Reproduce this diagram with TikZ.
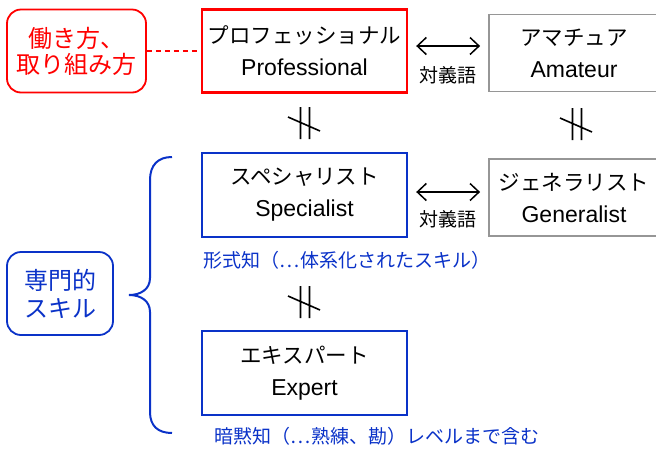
\documentclass[tikz,border=0pt]{standalone}
\usepackage{fontspec}
\setmainfont{Liberation Sans}
\newfontfamily\jp{Noto Sans CJK JP}
\usetikzlibrary{arrows.meta,calc}
\definecolor{myred}{RGB}{255,0,0}
\definecolor{myblue}{RGB}{10,50,200}
\definecolor{mygray}{RGB}{150,150,150}
\newcommand{\jl}[1]{{\jp\fontsize{21.5}{32}\selectfont #1}}
\tikzset{
  box/.style={draw, line width=2.4pt, minimum width=205pt, minimum height=83pt, align=center, inner sep=0pt, font=\fontsize{23}{32}\selectfont},
  graybox/.style={box, draw=mygray, line width=1.8pt, minimum width=170pt, minimum height=77pt},
  roundbox/.style={draw, rounded corners=14pt, line width=1.8pt, align=center, inner sep=0pt},
  dbl/.style={{Straight Barb[length=9pt,width=17pt]}-{Straight Barb[length=9pt,width=17pt]}, line width=1.5pt},
  small/.style={font=\jp\fontsize{19}{19}\selectfont, inner sep=0pt},
  noteq/.pic={
    \draw[line width=1.6pt] (-3.5,-16) -- (-3.5,16) (5.5,-16) -- (5.5,16) (-16,-6) -- (16,8);
  }
}
\begin{document}
\begin{tikzpicture}[x=1pt,y=-1pt]
\useasboundingbox (0,0) rectangle (656,448);
% top row
\node[roundbox, draw=myred, text=myred, minimum width=139pt, minimum height=83pt, font=\jp\fontsize{24}{26}\selectfont] (way) at (76.5,51) {働き方、\\取り組み方};
\node[box, draw=myred] (prof) at (304.5,51) {\jl{プロフェッショナル}\\Professional};
\node[graybox] (ama) at (574,53) {\jl{アマチュア}\\Amateur};
\draw[myred, dash pattern=on 5pt off 4pt, line width=1.6pt] (way.east) -- (prof.west);
\draw[dbl] ($(prof.east)+(8,-5)$) coordinate (a1) -- ($(ama.west)+(-8,-7)$) coordinate (a2);
\node[small] (t1) at ($(a1)!0.5!(a2)+(0,29)$) {対義語};
% middle row
\node[box, draw=myblue, minimum height=84pt] (spec) at (304.5,195) {\jl{スペシャリスト}\\Specialist};
\node[graybox] (gen) at (574,197.5) {\jl{ジェネラリスト}\\Generalist};
\draw[dbl] ($(spec.east)+(8,-3)$) coordinate (b1) -- ($(gen.west)+(-8,-5.5)$) coordinate (b2);
\node[small] (t2) at ($(b1)!0.5!(b2)+(0,27)$) {対義語};
\node[small, text=myblue] (formal) at (347,260) {形式知（⋯体系化されたスキル）};
% bottom
\node[box, draw=myblue, minimum height=84pt] (exp) at (304.5,373) {\jl{エキスパート}\\Expert};
\node[small, text=myblue] (tacit) at (377,436) {暗黙知（⋯熟練、勘）レベルまで含む};
% skill box and brace
\node[roundbox, draw=myblue, text=myblue, minimum width=106pt, minimum height=83pt, font=\jp\fontsize{24}{28}\selectfont] (skill) at (60,293.5) {専門的\\スキル};
\draw[myblue, line width=2pt] (172,157) .. controls (158,157) and (150,165) .. (150,180) -- (150,278)
  .. controls (150,289) and (141,295) .. (129,295) .. controls (141,295) and (150,301) .. (150,312)
  -- (150,412) .. controls (150,426) and (158,433) .. (172,433);
% not-equal marks
\pic at (304,123) {noteq};
\pic at (576,124) {noteq};
\pic at (304,302) {noteq};
\end{tikzpicture}
\end{document}
